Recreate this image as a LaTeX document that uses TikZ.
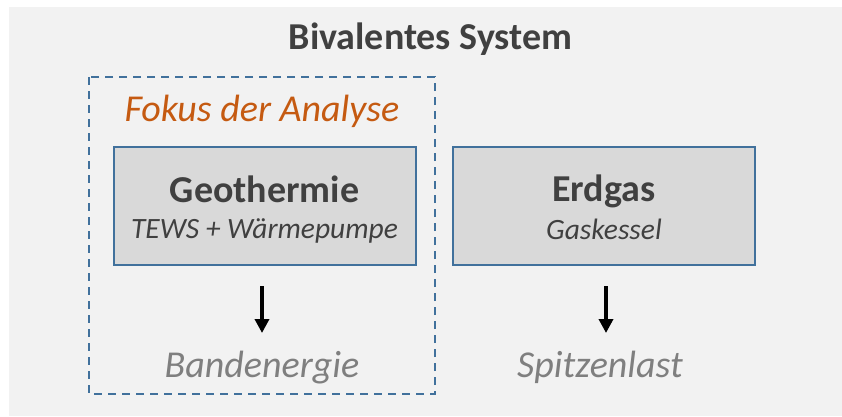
\documentclass[tikz,border=0pt]{standalone}
\usepackage{fontspec}
\setmainfont{Carlito}
\usetikzlibrary{arrows.meta}
\definecolor{bgfill}{HTML}{F2F2F2}
\definecolor{boxfill}{HTML}{D9D9D9}
\definecolor{boxline}{HTML}{41719C}
\definecolor{darktext}{HTML}{404040}
\definecolor{focustext}{HTML}{C55A11}
\definecolor{loadtext}{HTML}{7F7F7F}
\tikzset{
  bigbold/.style={font=\fontsize{38}{44}\selectfont\bfseries, text=darktext},
  subit/.style={font=\fontsize{29.5}{35}\selectfont\itshape, text=darktext},
  loadlabel/.style={font=\fontsize{38}{44}\selectfont\itshape, text=loadtext, anchor=base},
  sourcebox/.style={draw=boxline, line width=2pt, fill=boxfill, minimum width=302pt, minimum height=118pt, inner sep=0pt},
  focusframe/.style={draw=boxline, line width=2pt, dash pattern=on 8pt off 6pt},
  flowarrow/.style={line width=4pt, -{Triangle[width=14pt,length=14pt]}, shorten <=20.5pt}
}
\begin{document}
\begin{tikzpicture}[x=1pt,y=-1pt]
  \useasboundingbox (0,0) rectangle (842,416);
  % background panel
  \fill[bgfill] (9,7) rectangle (842,416);
  % title
  \node[bigbold, anchor=base] (title) at (430.5,49) {Bivalentes System};
  % dashed frame around the analysed part
  \draw[focusframe] (89,77) rectangle (435,394);
  \node[font=\fontsize{38}{44}\selectfont\itshape, text=focustext, anchor=base] (focus) at (262,121) {Fokus der Analyse};
  % heat sources
  \node[sourcebox] (geo) at (264.5,205.5) {};
  \node[bigbold, anchor=base] (geoname) at (264.5,202) {Geothermie};
  \node[subit, anchor=base] (geosub) at (264.5,238) {TEWS + Wärmepumpe};
  \node[sourcebox] (gas) at (604,205.5) {};
  \node[bigbold, anchor=base] (gasname) at (604,201) {Erdgas};
  \node[subit, anchor=base] (gassub) at (604,239) {Gaskessel};
  % load types
  \node[loadlabel] (band) at (262,377) {Bandenergie};
  \node[loadlabel] (peak) at (600,377) {Spitzenlast};
  % arrows from each source down to its load type
  \coordinate (geotip) at (262,333);
  \coordinate (gastip) at (606,333);
  \draw[flowarrow] (geotip |- geo.south) -- (geotip);
  \draw[flowarrow] (gastip |- gas.south) -- (gastip);
\end{tikzpicture}
\end{document}
